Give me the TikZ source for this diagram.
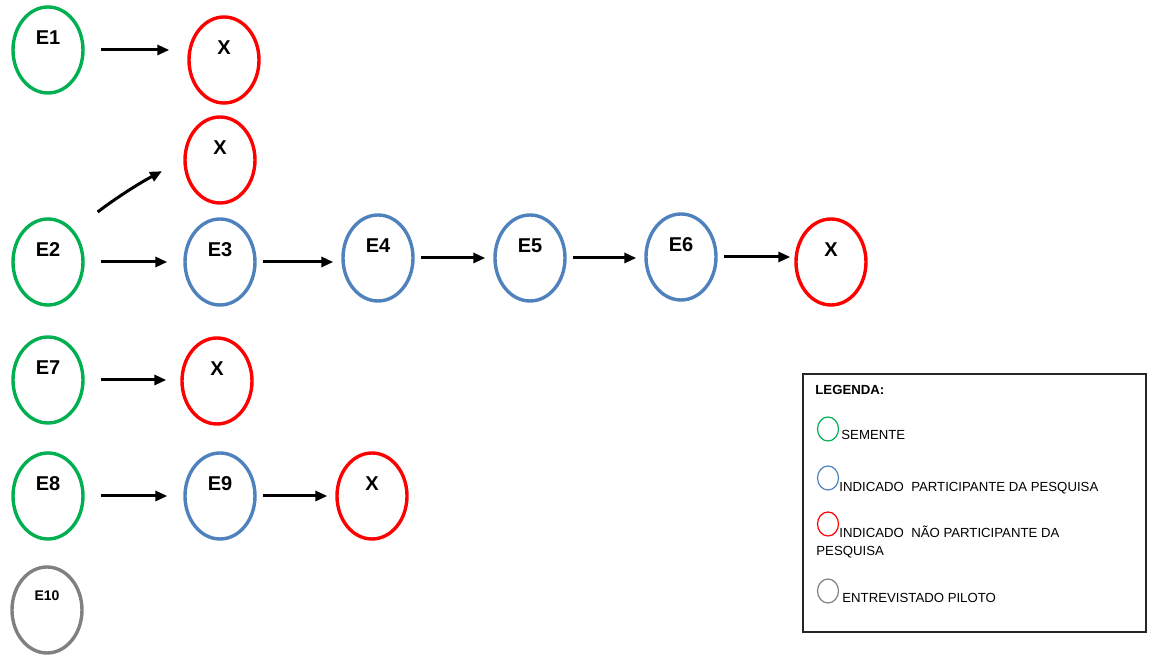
\documentclass[tikz,border=0pt]{standalone}
\usepackage{fontspec}
\setmainfont{Liberation Sans}
\usetikzlibrary{shapes.geometric,arrows.meta}
\definecolor{seedgreen}{RGB}{0,176,80}
\definecolor{partblue}{RGB}{79,129,189}
\definecolor{refusered}{RGB}{255,0,0}
\definecolor{pilotgrey}{RGB}{128,128,128}

\begin{document}
\begin{tikzpicture}[x=0.5pt, y=-0.5pt,
	pers/.style={ellipse, draw, line width=1.7pt, minimum width=35pt, minimum height=43pt, inner sep=0pt},
	seed/.style={pers, draw=seedgreen},
	part/.style={pers, draw=partblue},
	nopart/.style={pers, draw=refusered},
	pilot/.style={pers, draw=pilotgrey},
	lbl/.style={anchor=north, inner sep=0pt, yshift=-12.5pt, font=\bfseries\fontsize{10}{12}\selectfont},
	flow/.style={-{Triangle[length=6pt,width=5pt]}, line width=1.5pt, shorten <=3pt, shorten >=4pt},
	keymark/.style={ellipse, draw, line width=0.6pt, minimum width=10.5pt, minimum height=12pt, inner sep=0pt},
	keytext/.style={anchor=base west, inner sep=0pt, font=\fontsize{6.6}{9}\selectfont}]
	\useasboundingbox (0,0) rectangle (1152,656);
	\node[seed, label={[lbl]north:E1}] (e1) at (48,50) {};
	\node[nopart, label={[lbl]north:X}] (x1) at (224,60) {};
	\node[nopart, label={[lbl]north:X}] (x2) at (220,160) {};
	\node[seed, label={[lbl]north:E2}] (e2) at (48,262) {};
	\node[part, label={[lbl]north:E3}] (e3) at (220,262) {};
	\node[part, label={[lbl]north:E4}] (e4) at (378,258) {};
	\node[part, label={[lbl]north:E5}] (e5) at (530,258) {};
	\node[part, label={[lbl]north:E6}] (e6) at (681,257) {};
	\node[nopart, label={[lbl]north:X}] (x3) at (831,262) {};
	\node[seed, label={[lbl]north:E7}] (e7) at (48,380) {};
	\node[nopart, label={[lbl]north:X}] (x4) at (217,381) {};
	\node[seed, label={[lbl]north:E8}] (e8) at (48,496) {};
	\node[part, label={[lbl]north:E9}] (e9) at (220,496) {};
	\node[nopart, label={[lbl]north:X}] (x5) at (372,496) {};
	\node[pilot, label={[lbl, font=\bfseries\fontsize{7}{8}\selectfont]north:E10}] (e10) at (47,610) {};

	\draw[flow, shorten <=8pt, shorten >=9pt] (e1.east) -- (e1.east -| x1.west);
	\draw[flow, shorten <=15pt, shorten >=12pt] (e2.north east) to[bend left=5] (x2.west);
	\draw[flow, shorten <=8pt, shorten >=8pt] (e2.east) -- (e2.east -| e3.west);
	\draw[flow] (e3.east) -- (e3.east -| e4.west);
	\draw[flow] (e4.east) -- (e4.east -| e5.west);
	\draw[flow] (e5.east) -- (e5.east -| e6.west);
	\draw[flow, shorten >=2pt] (e6.east) -- (e6.east -| x3.west);
	\draw[flow, shorten <=8pt, shorten >=7pt] (e7.east) -- (e7.east -| x4.west);
	\draw[flow, shorten <=8pt, shorten >=8pt] (e8.east) -- (e8.east -| e9.west);
	\draw[flow] (e9.east) -- (e9.east -| x5.west);

	\draw[line width=0.8pt, draw=black!85] (803,374) rectangle (1146,632);
	\node[keytext, font=\bfseries\fontsize{6.6}{9}\selectfont] (legtitle) at (815,395) {LEGENDA:};
	\node[keymark, draw=seedgreen] (k1) at (828,429) {};
	\node[keytext] (t1) at (841,440) {SEMENTE};
	\node[keymark, draw=partblue] (k2) at (828,478) {};
	\node[keytext] (t2) at (839,492) {INDICADO\ \ PARTICIPANTE DA PESQUISA};
	\node[keymark, draw=refusered] (k3) at (828,524) {};
	\node[keytext] (t3) at (839,538) {INDICADO\ \ NÃO PARTICIPANTE DA};
	\node[keytext] (t3b) at (816,556) {PESQUISA};
	\node[keymark, draw=pilotgrey] (k4) at (828,591) {};
	\node[keytext] (t4) at (842,603) {ENTREVISTADO PILOTO};
\end{tikzpicture}
\end{document}
